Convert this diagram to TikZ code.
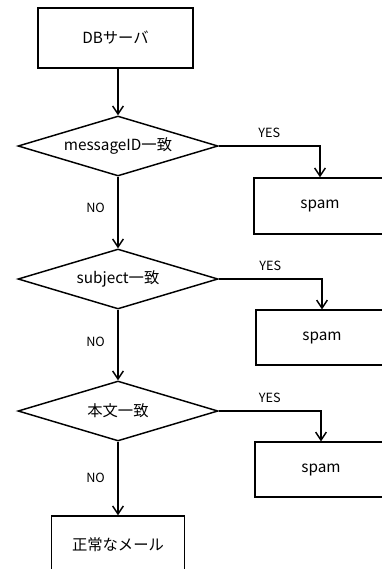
\documentclass[tikz,border=0pt]{standalone}
\usepackage{fontspec}
\setmainfont{Noto Sans CJK JP}
\usetikzlibrary{shapes.geometric, arrows.meta, positioning}

\begin{document}
\begin{tikzpicture}[x=0.75pt,y=-0.75pt,line width=1.1pt,
                    >={Straight Barb[length=6pt,width=8pt]},
                    box node/.style={rectangle,draw,minimum width=99pt,minimum height=42pt,font=\fontsize{11.5}{13}\selectfont},
                    test node/.style={diamond,aspect=3.33,draw,inner sep=0pt,minimum width=150pt,minimum height=45pt,font=\fontsize{11.5}{13}\selectfont},
                    answer/.style={font=\fontsize{9.5}{11}\selectfont}]
\useasboundingbox (0,0) rectangle (382,569);
\clip (0,0) rectangle (382,569);

% main column
\node[box node,minimum width=116pt,minimum height=45pt] (DBServer) at (115.5,38) {DBサーバ};
\node[test node] (TestID) at (118,146) {messageID一致};
\node[test node] (TestSubject) at (118,279) {subject一致};
\node[test node] (TestBody) at (118,411) {本文一致};
\node[box node,minimum width=100pt,minimum height=43.5pt] (Normal) at (118,545) {正常なメール};

% spam boxes
\node[box node] (Spam1) at (320,206) {spam};
\node[box node,minimum height=41pt] (Spam2) at (322,337.5) {spam};
\node[box node,minimum height=41pt] (Spam3) at (321,469.5) {spam};

\draw[->] (TestID.north |- DBServer.south) -- (TestID.north);
\draw[->] (TestID.south) -- node[answer,left=6pt,pos=0.43] {NO} (TestSubject.north);
\draw[->] (TestSubject.south) -- node[answer,left=6pt,pos=0.46] {NO} (TestBody.north);
\draw[->] (TestBody.south) -- node[answer,left=6pt,pos=0.49] {NO} (Normal.north);

\draw[->] (TestID.east) -| node[answer,above=2pt,pos=0.25] {YES} (Spam1.north);
\draw[->] (TestSubject.east) -| node[answer,above=2pt,pos=0.25] {YES} (Spam2.north);
\draw[->] (TestBody.east) -| node[answer,above=2pt,pos=0.25] {YES} (Spam3.north);

\end{tikzpicture}
\end{document}
